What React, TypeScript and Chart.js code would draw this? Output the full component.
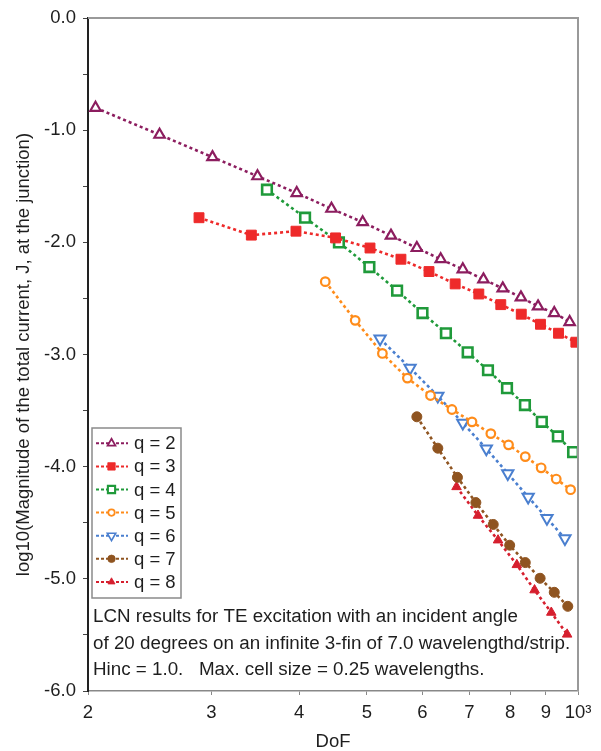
import React, { useEffect, useRef } from 'react';
import { Chart, registerables } from 'chart.js';
import { drawPoint } from 'chart.js/helpers';

Chart.register(...registerables);

// ---- Data (DoF, log10 |J|) ----
const seriesLabels = ['q = 2', 'q = 3', 'q = 4', 'q = 5', 'q = 6', 'q = 7', 'q = 8'];

const q2Dof = [205, 253, 301, 349, 397, 445, 493, 541, 589, 637, 685, 733, 781, 829, 877, 925, 973];
const q2Val = [-0.80, -1.04, -1.24, -1.41, -1.56, -1.70, -1.82, -1.94, -2.05, -2.15, -2.24, -2.33, -2.41, -2.49, -2.57, -2.63, -2.71];

const q3Dof = [288, 342, 396, 451, 505, 559, 613, 668, 722, 776, 830, 884, 938, 993];
const q3Val = [-1.78, -1.935, -1.90, -1.96, -2.05, -2.15, -2.26, -2.37, -2.46, -2.555, -2.64, -2.73, -2.81, -2.89];

const q4Dof = [360, 408, 456, 504, 552, 600, 648, 696, 744, 792, 840, 888, 936, 984];
const q4Val = [-1.53, -1.78, -2.00, -2.22, -2.43, -2.63, -2.81, -2.98, -3.14, -3.30, -3.45, -3.60, -3.73, -3.87];

const q5Dof = [436, 481, 526, 571, 616, 661, 706, 751, 796, 841, 886, 931, 976];
const q5Val = [-2.35, -2.695, -2.99, -3.21, -3.365, -3.49, -3.60, -3.705, -3.805, -3.91, -4.01, -4.11, -4.205];

const q6Dof = [522, 576, 631, 685, 740, 794, 849, 903, 958];
const q6Val = [-2.86, -3.12, -3.37, -3.61, -3.84, -4.06, -4.27, -4.46, -4.64];

const q7Dof = [589, 631, 673, 715, 757, 799, 841, 883, 925, 967];
const q7Val = [-3.555, -3.835, -4.095, -4.32, -4.515, -4.70, -4.855, -4.995, -5.12, -5.245];

const q8Dof = [671, 720, 769, 818, 867, 916, 965];
const q8Val = [-4.18, -4.435, -4.655, -4.875, -5.10, -5.30, -5.495];

const xTickValues = [200, 300, 400, 500, 600, 700, 800, 900, 1000];
const xTickLabels = ['2', '3', '4', '5', '6', '7', '8', '9', '10\u00B3'];

const noteLines = [
  'LCN results for TE excitation with an incident angle',
  'of 20 degrees on an infinite 3-fin of 7.0 wavelengthd/strip.',
  'Hinc = 1.0.   Max. cell size = 0.25 wavelengths.',
];

const yTitle = 'log10(Magnitude of the total current, J, at the junction)';
const xTitle = 'DoF';

const FONT = '"Liberation Sans", Arial, Helvetica, sans-serif';
const FS = 18.5;
const TEXT = '#1e1e1e';

type Style = {
  color: string;
  pointStyle: string;
  radius: number;
  rotation: number;
  open: boolean;
  bw: number;
};

const styles: Style[] = [
  { color: '#8c1d5f', pointStyle: 'triangle', radius: 6, rotation: 0, open: true, bw: 2.2 },
  { color: '#ee2a2a', pointStyle: 'rect', radius: 7, rotation: 0, open: false, bw: 1 },
  { color: '#1f9a3a', pointStyle: 'rect', radius: 6.8, rotation: 0, open: true, bw: 2.6 },
  { color: '#ff8c1a', pointStyle: 'circle', radius: 4.3, rotation: 0, open: true, bw: 2.2 },
  { color: '#4a7fcf', pointStyle: 'triangle', radius: 6.5, rotation: 180, open: true, bw: 2 },
  { color: '#8f5420', pointStyle: 'circle', radius: 5, rotation: 0, open: false, bw: 1 },
  { color: '#d61f2e', pointStyle: 'triangle', radius: 5.5, rotation: 0, open: false, bw: 1 },
];

const seriesDof = [q2Dof, q3Dof, q4Dof, q5Dof, q6Dof, q7Dof, q8Dof];
const seriesVal = [q2Val, q3Val, q4Val, q5Val, q6Val, q7Val, q8Val];

const framePlugin = {
  id: 'frame',
  afterDraw(chart: any) {
    const { ctx, chartArea: a } = chart;
    ctx.save();
    ctx.strokeStyle = '#999';
    ctx.lineWidth = 2;
    ctx.beginPath();
    ctx.moveTo(a.left, a.top);
    ctx.lineTo(a.right, a.top);
    ctx.lineTo(a.right, a.bottom);
    ctx.stroke();
    ctx.restore();
  },
};

const legendPlugin = {
  id: 'insideLegend',
  afterDraw(chart: any) {
    const { ctx } = chart;
    const bx = 92, by = 428, bw = 89, bh = 170;
    ctx.save();
    ctx.fillStyle = '#fff';
    ctx.fillRect(bx, by, bw, bh);
    ctx.strokeStyle = '#8a8a8a';
    ctx.lineWidth = 1.5;
    ctx.strokeRect(bx, by, bw, bh);
    seriesLabels.forEach((label, i) => {
      const s = styles[i];
      const y = 443.3 + i * 23.1;
      ctx.save();
      ctx.strokeStyle = s.color;
      ctx.lineWidth = 2;
      ctx.setLineDash([3, 2]);
      ctx.beginPath();
      ctx.moveTo(96, y);
      ctx.lineTo(128, y);
      ctx.stroke();
      ctx.setLineDash([]);
      ctx.fillStyle = s.open ? '#fff' : s.color;
      ctx.strokeStyle = s.color;
      ctx.lineWidth = s.bw * 0.8;
      drawPoint(ctx, { pointStyle: s.pointStyle as any, radius: s.radius * 0.75, rotation: s.rotation, borderWidth: s.bw * 0.8 }, 111.5, y);
      ctx.restore();
      ctx.fillStyle = TEXT;
      ctx.font = `${FS}px ${FONT}`;
      ctx.textAlign = 'left';
      ctx.textBaseline = 'middle';
      ctx.fillText(label, 134, y + 1);
    });
    ctx.restore();
  },
};

const notePlugin = {
  id: 'note',
  afterDraw(chart: any) {
    const { ctx } = chart;
    ctx.save();
    ctx.fillStyle = TEXT;
    ctx.font = `18.8px ${FONT}`;
    ctx.textAlign = 'left';
    ctx.textBaseline = 'middle';
    noteLines.forEach((line, i) => {
      ctx.fillText(line, 93, 617 + i * 26.5);
    });
    ctx.restore();
  },
};

export default function App() {
  const ref = useRef<HTMLCanvasElement | null>(null);

  useEffect(() => {
    if (!ref.current) return;
    const datasets = seriesLabels.map((label, i) => {
      const s = styles[i];
      return {
        label,
        data: seriesDof[i].map((x, j) => ({ x, y: seriesVal[i][j] })),
        borderColor: s.color,
        backgroundColor: s.color,
        borderWidth: 2.6,
        borderDash: [3, 3],
        tension: 0,
        fill: false,
        showLine: true,
        pointStyle: s.pointStyle,
        pointRadius: s.radius,
        pointRotation: s.rotation,
        pointBackgroundColor: s.open ? '#ffffff' : s.color,
        pointBorderColor: s.color,
        pointBorderWidth: s.bw,
        pointHoverRadius: s.radius,
      };
    });

    const chart = new Chart(ref.current, {
      type: 'line',
      data: { datasets } as any,
      options: {
        responsive: false,
        animation: false,
        devicePixelRatio: 1,
        layout: { padding: { top: 14, right: 23, left: 0, bottom: 0 } },
        plugins: {
          legend: { display: false },
          tooltip: { enabled: false },
        },
        scales: {
          x: {
            type: 'logarithmic',
            min: 200,
            max: 1000,
            afterFit: (s: any) => {
              s.height = 60;
            },
            afterBuildTicks: (s: any) => {
              s.ticks = xTickValues.map((v) => ({ value: v }));
            },
            ticks: {
              autoSkip: false,
              maxRotation: 0,
              padding: 7,
              color: TEXT,
              font: { family: FONT, size: FS },
              callback: (v: any) => {
                const idx = xTickValues.indexOf(Number(v));
                return idx >= 0 ? xTickLabels[idx] : '';
              },
            },
            grid: {
              display: true,
              drawOnChartArea: false,
              drawTicks: true,
              tickLength: 4,
              color: '#888',
            },
            border: { display: true, color: '#888', width: 1.5 },
            title: {
              display: true,
              text: xTitle,
              color: TEXT,
              font: { family: FONT, size: FS, lineHeight: 1 },
              padding: { top: 0, bottom: 0 },
            },
          },
          y: {
            type: 'linear',
            min: -6,
            max: 0,
            afterFit: (s: any) => {
              s.width = 88;
            },
            ticks: {
              stepSize: 0.5,
              padding: 7,
              color: TEXT,
              font: { family: FONT, size: FS },
              callback: (v: any) => {
                const n = Number(v);
                return Math.abs(n - Math.round(n)) < 1e-9 ? (n === 0 ? '0.0' : n.toFixed(1)) : '';
              },
            },
            grid: {
              display: true,
              drawOnChartArea: false,
              drawTicks: true,
              tickLength: 5,
              color: '#444',
            },
            border: { display: true, color: '#222', width: 2 },
            title: {
              display: true,
              text: yTitle,
              color: TEXT,
              font: { family: FONT, size: FS, lineHeight: 1 },
              padding: { top: 15, bottom: 0 },
            },
          },
        },
      } as any,
      plugins: [framePlugin, legendPlugin, notePlugin],
    });

    return () => chart.destroy();
  }, []);

  return (
    <div style={{ position: 'absolute', left: 0, top: 0, width: 601, height: 751, background: '#fff' }}>
      <canvas ref={ref} width={601} height={751} style={{ display: 'block' }} />
    </div>
  );
}
